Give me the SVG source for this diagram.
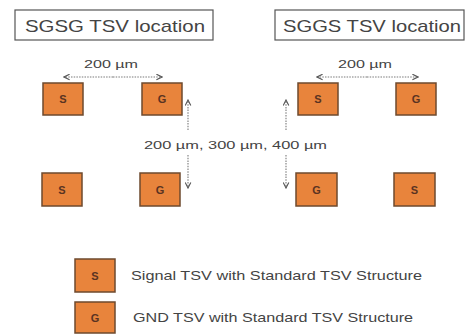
<svg xmlns="http://www.w3.org/2000/svg" width="470" height="334" viewBox="0 0 470 334">
<style>
.title{font-family:"Liberation Sans",Arial,sans-serif;font-size:17px;fill:#444}
.tbox{fill:#fff;stroke:#555;stroke-width:1.2}
.sq{fill:#E8843C;stroke:#6e4a2e;stroke-width:1.5}
.lt{font-family:"Liberation Sans",Arial,sans-serif;font-size:11px;font-weight:bold;fill:#5a3322;text-anchor:middle}
.dim{font-family:"Liberation Sans",Arial,sans-serif;font-size:11.5px;fill:#444}
.leg{font-family:"Liberation Sans",Arial,sans-serif;font-size:13px;fill:#444}
.conn{stroke:#7a7a7a;stroke-width:1.1;stroke-dasharray:1.5 1.2;fill:none;marker-end:url(#ah)}
</style>
<defs>
<marker id="ah" viewBox="0 0 10 10" refX="9" refY="5" markerWidth="7" markerHeight="7" orient="auto" markerUnits="userSpaceOnUse">
<path d="M1,1 L9,5 L1,9" fill="none" stroke="#555" stroke-width="1.6"/>
</marker>
</defs>
<rect width="470" height="334" fill="#fff"/>
<g id="title-sgsg"><rect class="tbox" x="15" y="10" width="198" height="30"/><text class="title" x="25" y="32" textLength="180" lengthAdjust="spacingAndGlyphs">SGSG TSV location</text></g>
<g id="title-sggs"><rect class="tbox" x="275" y="10" width="189" height="30"/><text class="title" x="283" y="32" textLength="178" lengthAdjust="spacingAndGlyphs">SGGS TSV location</text></g>
<g id="n-s1"><rect class="sq" x="43" y="83" width="40" height="32"/><text class="lt" x="63" y="103">S</text></g>
<g id="n-g1"><rect class="sq" x="142" y="83" width="40" height="32"/><text class="lt" x="162" y="103">G</text></g>
<g id="n-s2"><rect class="sq" x="298" y="83" width="40" height="32"/><text class="lt" x="318" y="103">S</text></g>
<g id="n-g2"><rect class="sq" x="396" y="83" width="40" height="32"/><text class="lt" x="416" y="103">G</text></g>
<g id="n-s3"><rect class="sq" x="42" y="173" width="40" height="33"/><text class="lt" x="62" y="193.5">S</text></g>
<g id="n-g3"><rect class="sq" x="140" y="173" width="40" height="33"/><text class="lt" x="160" y="193.5">G</text></g>
<g id="n-g4"><rect class="sq" x="296" y="173" width="41" height="33"/><text class="lt" x="316.5" y="193.5">G</text></g>
<g id="n-s4"><rect class="sq" x="394" y="173" width="41" height="33"/><text class="lt" x="414.5" y="193.5">S</text></g>
<g id="connectors">
<line class="conn" x1="113" y1="77" x2="64" y2="77"/>
<line class="conn" x1="113" y1="77" x2="162" y2="77"/>
<line class="conn" x1="367" y1="77" x2="317" y2="77"/>
<line class="conn" x1="367" y1="77" x2="418" y2="77"/>
<line class="conn" x1="188" y1="130" x2="188" y2="100"/>
<line class="conn" x1="188" y1="155" x2="188" y2="188"/>
<line class="conn" x1="286" y1="130" x2="286" y2="100"/>
<line class="conn" x1="286" y1="155" x2="286" y2="188"/>
</g>
<g id="labels">
<text class="dim" x="84" y="68" textLength="54" lengthAdjust="spacingAndGlyphs">200 µm</text>
<text class="dim" x="338" y="68" textLength="54" lengthAdjust="spacingAndGlyphs">200 µm</text>
<text class="dim" x="144" y="148.5" textLength="183" lengthAdjust="spacingAndGlyphs">200 µm, 300 µm, 400 µm</text>
</g>
<g id="legend-s"><rect class="sq" x="75" y="259" width="40" height="33"/><text class="lt" x="95" y="279.5">S</text><text class="leg" x="131" y="280" textLength="291" lengthAdjust="spacingAndGlyphs">Signal TSV with Standard TSV Structure</text></g>
<g id="legend-g"><rect class="sq" x="75" y="302" width="40" height="31"/><text class="lt" x="95" y="321.5">G</text><text class="leg" x="133" y="322" textLength="280" lengthAdjust="spacingAndGlyphs">GND TSV with Standard TSV Structure</text></g>
</svg>
